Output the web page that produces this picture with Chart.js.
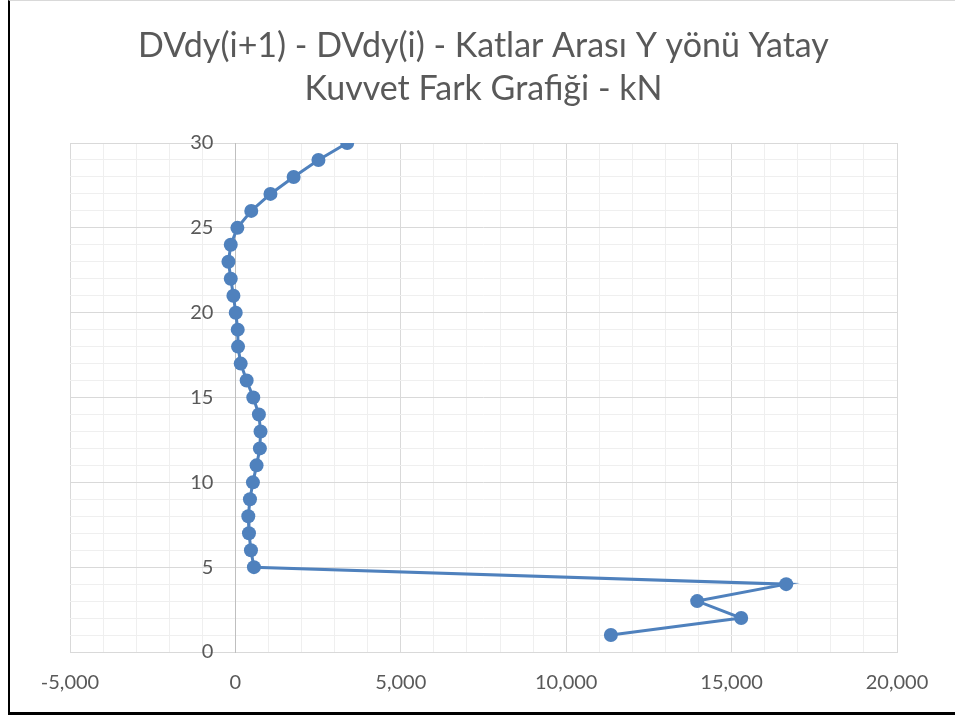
<!DOCTYPE html>
<html>
<head>
<meta charset="utf-8">
<script src="https://cdn.jsdelivr.net/npm/chart.js@4"></script>
<style>
  body { margin: 0; background: #fff; }
  #wrap { position: relative; width: 955px; height: 717px; }
  #frame {
    position: absolute; left: 8px; top: 0; width: 960px; height: 711px;
    border-left: 2px solid #000; border-bottom: 3px solid #000; border-top: 1px solid #d9d9d9;
    pointer-events: none;
  }
</style>
</head>
<body>
<div id="wrap">
  <canvas id="myChart" width="955" height="717"></canvas>
  <div id="frame"></div>
</div>
<script>
// floors (y) and force difference values (x), in line order
var floors = [30, 29, 28, 27, 26, 25, 24, 23, 22, 21, 20, 19, 18, 17, 16,
              15, 14, 13, 12, 11, 10, 9, 8, 7, 6, 5, 4, 3, 2, 1]
var diffs = [3380, 2510, 1760, 1060, 480, 60, -140, -210, -140, -60, 10, 70, 80, 160, 340,
             540, 710, 760, 740, 640, 530, 440, 390, 410, 470, 560, 16650, 13960, 15290, 11350]

var titleLines = ['DVdy(i+1) - DVdy(i) - Katlar Arası Y yönü Yatay', 'Kuvvet Fark Grafiği - kN']

var blue = '#4f81bd'
var major = '#d9d9d9'
var minor = '#efefef'
var labelColor = '#595959'
var tickFont = { family: 'Lato', size: 20 }

// y labels sit left of the axis that crosses at x = 0
var yLabels = {
  id: 'yLabels',
  afterDraw(chart) {
    var c = chart.ctx
    var xs = chart.scales.x
    var ys = chart.scales.y
    var x0 = xs.getPixelForValue(0)
    c.save()
    c.font = tickFont.size + 'px ' + tickFont.family
    c.fillStyle = labelColor
    c.textAlign = 'right'
    c.textBaseline = 'middle'
    ys.ticks.forEach(t => {
      if (t.value % 5 === 0) c.fillText(String(t.value), x0 - 22, ys.getPixelForValue(t.value))
    })
    c.restore()
  }
}

var ctx = document.getElementById('myChart').getContext('2d')

var myChart = new Chart(ctx, {
  type: 'scatter',
  data: {
    datasets: [{
      label: 'DVdy',
      data: floors.map((f, i) => ({ x: diffs[i], y: f })),
      showLine: true,
      borderColor: blue,
      backgroundColor: blue,
      borderWidth: 3,
      pointRadius: 7,
      pointHoverRadius: 7,
      pointBorderWidth: 0
    }]
  },
  options: {
    responsive: false,
    animation: false,
    devicePixelRatio: 1,
    layout: {
      padding: { left: 70, right: 58, top: 0, bottom: 3 }
    },
    plugins: {
      legend: { display: false },
      tooltip: { enabled: false },
      title: {
        display: true,
        text: titleLines,
        color: labelColor,
        font: { family: 'Lato', size: 34, weight: 'normal', lineHeight: 1.265 },
        padding: { top: 25, bottom: 32 }
      }
    },
    scales: {
      x: {
        type: 'linear',
        min: -5000,
        max: 20000,
        ticks: {
          stepSize: 1000,
          autoSkip: false,
          maxRotation: 0,
          color: labelColor,
          font: tickFont,
          padding: 19,
          callback: v => v % 5000 === 0 ? v.toLocaleString('en-US') : ''
        },
        grid: {
          drawTicks: false,
          color: c => c.tick.value % 5000 === 0 ? major : minor
        },
        border: { color: major }
      },
      y: {
        type: 'linear',
        position: { x: 0 },
        min: 0,
        max: 30,
        ticks: {
          stepSize: 1,
          autoSkip: false,
          display: false
        },
        grid: {
          drawTicks: false,
          color: c => c.tick.value % 5 === 0 ? major : minor
        },
        border: { color: '#bfbfbf' }
      }
    }
  },
  plugins: [yLabels]
})
</script>
</body>
</html>
